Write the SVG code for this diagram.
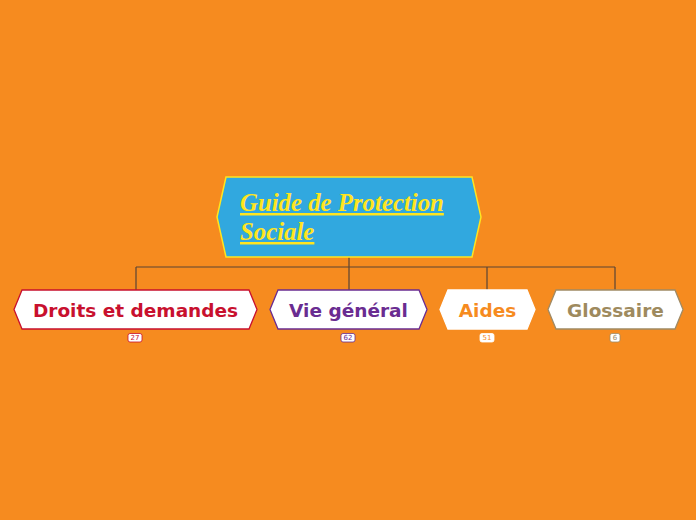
<svg xmlns="http://www.w3.org/2000/svg" width="696" height="520" viewBox="0 0 696 520">
<style>
.bg{fill:#f68b1f}
.conn{stroke:#5a4535;stroke-width:1.2;fill:none}
.node{fill:#ffffff;stroke-width:1.3}
.lbl{font-family:"DejaVu Sans",Verdana,sans-serif;font-weight:bold;font-size:18.5px;text-anchor:middle}
.badge{fill:#ffffff;stroke-width:0.8}
.btxt{font-family:"DejaVu Sans",sans-serif;font-size:7px;text-anchor:middle}
</style>
<rect class="bg" x="0" y="0" width="696" height="520"/>
<g id="connectors">
<path class="conn" d="M349 257V267M136 267H615M136 267V290M349 267V290M487 267V290M615 267V290"/>
</g>
<g id="root">
<polygon points="226,177 472,177 481,217 472,257 226,257 217,217" fill="#31a8df" stroke="#ffe51f" stroke-width="1.5"/>
<text x="240" y="211" font-family="'Liberation Serif','Times New Roman',serif" font-weight="bold" font-style="italic" font-size="24.8" fill="#ffe51f" text-decoration="underline">Guide de Protection </text>
<text x="240" y="240" font-family="'Liberation Serif','Times New Roman',serif" font-weight="bold" font-style="italic" font-size="24.8" fill="#ffe51f" text-decoration="underline">Sociale</text>
</g>
<g id="droits">
<polygon class="node" points="22,290 249,290 257,309.5 249,329 22,329 14,309.5" stroke="#c8102e"/>
<text class="lbl" x="135.5" y="317" fill="#c8102e">Droits et demandes</text>
<rect class="badge" x="128" y="333.5" width="14" height="8.5" rx="2" stroke="#c8102e"/>
<text class="btxt" x="135" y="340.3" fill="#c8102e">27</text>
</g>
<g id="vie">
<polygon class="node" points="278,290 419,290 427,309.5 419,329 278,329 270,309.5" stroke="#6a2c91"/>
<text class="lbl" x="348.5" y="317" fill="#6a2c91">Vie général</text>
<rect class="badge" x="341" y="333.5" width="14" height="8.5" rx="2" stroke="#6a2c91"/>
<text class="btxt" x="348" y="340.3" fill="#6a2c91">62</text>
</g>
<g id="aides">
<polygon class="node" points="448,290 527,290 535,309.5 527,329 448,329 440,309.5" stroke="#ffffff"/>
<text class="lbl" x="487.5" y="317" fill="#f68b1f">Aides</text>
<rect class="badge" x="480" y="333.5" width="14" height="8.5" rx="2" stroke="#ffffff"/>
<text class="btxt" x="487" y="340.3" fill="#f68b1f">51</text>
</g>
<g id="glossaire">
<polygon class="node" points="556,290 675,290 683,309.5 675,329 556,329 548,309.5" stroke="#a08a64"/>
<text class="lbl" x="615.5" y="317" fill="#9e8a5e">Glossaire</text>
<rect class="badge" x="610" y="333.5" width="10" height="8.5" rx="2" stroke="#a08a64"/>
<text class="btxt" x="615" y="340.3" fill="#9e8a5e">6</text>
</g>
</svg>
